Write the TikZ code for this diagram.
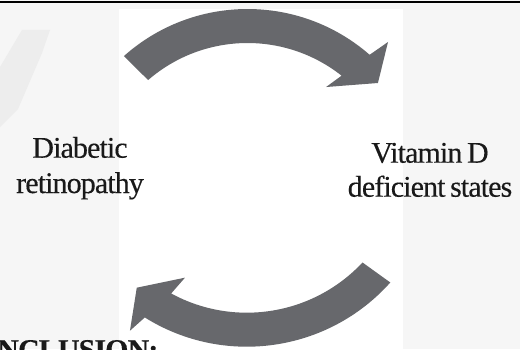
\documentclass[tikz,border=0pt]{standalone}
\usepackage{fontspec}
\setmainfont{Liberation Serif}[LetterSpace=-3, WordSpace=0.7, FakeBold=0.3]
\usetikzlibrary{calc}
\definecolor{arrowgray}{RGB}{103,104,108}
\definecolor{panelgray}{RGB}{246,246,246}
\definecolor{markgray}{RGB}{237,237,237}
\tikzset{
  blockarrow/.style={fill=arrowgray, draw=none},
  lbl/.style={anchor=base, inner sep=0pt, text=black!90, font=\fontsize{30}{34}\selectfont},
}
\begin{document}
\begin{tikzpicture}[x=1pt,y=1pt]
  \useasboundingbox (0,0) rectangle (520,349);
  \clip (0,0) rectangle (520,349);

  \fill[panelgray] (0,0) rectangle (520,349);
  \fill[markgray] (22,319) -- (50,319) -- (42,296) -- (30,268) -- (18,240) -- (0,222) -- (0,282) -- cycle;
  \fill[white] (119,0) rectangle (403,340);
  \draw[line width=2pt] (0,347) -- (520,347);

  \coordinate (tc) at (247.5,154.2);
  \coordinate (bc) at (246.8,194.8);

  \fill[blockarrow] ($(tc)+(131.7:185.8)$) arc[start angle=131.7, end angle=48.9, radius=185.8]
    -- ($(tc)+(47.4:207.6)$) -- ($(tc)+(40.6:171.8)$) -- ($(tc)+(53.9:133.4)$)
    -- ($(tc)+(51.7:151.8)$) arc[start angle=51.7, end angle=130.9, radius=151.8] -- cycle;
  \fill[blockarrow] ($(bc)+(-41.8:192.5)$) arc[start angle=-41.8, end angle=-122.0, radius=192.5]
    -- ($(bc)+(-123.5:211.7)$) -- ($(bc)+(-129.5:173)$) -- ($(bc)+(-116.6:138.1)$)
    -- ($(bc)+(-118.5:158.5)$) arc[start angle=-118.5, end angle=-43.1, radius=158.5] -- cycle;

  \node[lbl] (diab) at (80,191.3) {Diabetic};
  \node[lbl] (retin) at (80,156) {retinopathy};
  \node[lbl] (vitd) at (430,186.3) {Vitamin D};
  \node[lbl] (defic) at (430,152.3) {deficient states};

  \node[lbl, anchor=base west, font=\fontsize{30}{34}\selectfont\bfseries] (concl) at (-3,-10.9) {NCLUSION:};
\end{tikzpicture}
\end{document}
